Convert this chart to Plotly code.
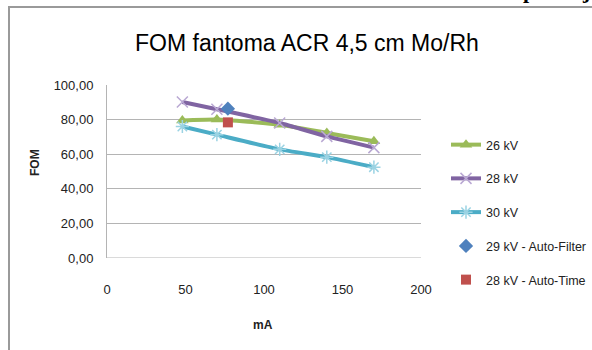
import plotly.graph_objects as go

# Tube current (mA) and FOM measured at each kV setting
ma = [48, 70, 110, 140, 170]
fom_26kv = [79.5, 80.0, 77.0, 72.3, 67.5]
fom_28kv = [90.2, 86.0, 78.0, 70.3, 63.8]
fom_30kv = [76.0, 71.3, 62.8, 58.3, 52.5]

# Automatic exposure modes (single points)
auto_filter_ma = [77]
auto_filter_fom = [86.3]
auto_time_ma = [77]
auto_time_fom = [78.4]

y_ticks = [0, 20, 40, 60, 80, 100]
y_tick_text = ["0,00", "20,00", "40,00", "60,00", "80,00", "100,00"]
x_ticks = [0, 50, 100, 150, 200]

W, H = 592, 350
L, R, T, B = 107, 421, 85, 258  # plot area in pixels

def px_x(px):
    return (px - L) / (R - L)

def px_y(py):
    return (B - py) / (B - T)

font_main = "Liberation Sans, Arial, sans-serif"

fig = go.Figure()

fig.add_trace(go.Scatter(
    x=ma, y=fom_26kv, name="26 kV", mode="lines+markers",
    line=dict(color="#9BBB59", width=4, shape="spline", smoothing=0.5),
    marker=dict(symbol="triangle-up", size=11, color="#9BBB59"),
    legendgroup="a",
))
fig.add_trace(go.Scatter(
    x=ma, y=fom_28kv, name="28 kV", mode="lines+markers",
    line=dict(color="#8064A2", width=4, shape="spline", smoothing=0.5),
    marker=dict(symbol="x-thin", size=11, line=dict(color="#B9A8D3", width=1.5)),
    legendgroup="b",
))
fig.add_trace(go.Scatter(
    x=ma, y=fom_30kv, name="30 kV", mode="lines+markers",
    line=dict(color="#4BACC6", width=4, shape="spline", smoothing=0.5),
    marker=dict(symbol="asterisk", size=11, line=dict(color="#9BD3E3", width=1.5)),
    legendgroup="c",
))
fig.add_trace(go.Scatter(
    x=auto_filter_ma, y=auto_filter_fom, name="29 kV - Auto-Filter", mode="markers",
    marker=dict(symbol="diamond", size=11, color="#4F81BD"),
    legendgroup="d",
))
fig.add_trace(go.Scatter(
    x=auto_time_ma, y=auto_time_fom, name="28 kV - Auto-Time", mode="markers",
    marker=dict(symbol="square", size=10, color="#C0504D"),
    legendgroup="e",
))

grid = "#B4B4B4"

fig.update_layout(
    width=W, height=H,
    margin=dict(l=L, r=W - R, t=T, b=H - B, autoexpand=False),
    paper_bgcolor="white", plot_bgcolor="white",
    font=dict(family=font_main, size=13, color="#222222"),
    showlegend=True,
    legend=dict(
        x=px_x(446), y=px_y(130), xanchor="left", yanchor="top",
        font=dict(family=font_main, size=12.5, color="#222222"),
        tracegroupgap=14.5, itemwidth=30, bgcolor="rgba(0,0,0,0)",
    ),
    xaxis=dict(
        range=[0, 200], tickvals=x_ticks, showgrid=False, zeroline=False,
        showline=False, ticks="", ticklabelstandoff=22,
        tickfont=dict(size=13, color="#222222"),
    ),
    yaxis=dict(
        range=[0, 100], tickvals=y_ticks, ticktext=y_tick_text,
        showgrid=True, gridcolor=grid, gridwidth=1, zeroline=False,
        showline=True, linecolor=grid, linewidth=1, ticks="",
        ticklabelstandoff=10, tickfont=dict(size=13, color="#222222"),
    ),
    annotations=[
        dict(text="FOM fantoma ACR 4,5 cm Mo/Rh", xref="paper", yref="paper",
             x=px_x(307), y=px_y(43), xanchor="center", yanchor="middle",
             showarrow=False, font=dict(family=font_main, size=23, color="#000000")),
        dict(text="<b>mA</b>", xref="paper", yref="paper",
             x=px_x(263), y=px_y(325), xanchor="center", yanchor="middle",
             showarrow=False, font=dict(size=12, color="#222222")),
        dict(text="<b>FOM</b>", xref="paper", yref="paper",
             x=px_x(35), y=px_y(163), xanchor="center", yanchor="middle",
             textangle=-90, showarrow=False, font=dict(size=12, color="#222222")),
        # running text of the page above the chart (only descenders visible)
        dict(text="<b>p</b>", xref="paper", yref="paper",
             x=px_x(529), y=px_y(-10), xanchor="center", yanchor="middle",
             showarrow=False,
             font=dict(family="Liberation Serif, serif", size=22, color="#000000")),
        dict(text="<b>j</b>", xref="paper", yref="paper",
             x=px_x(586), y=px_y(-10), xanchor="center", yanchor="middle",
             showarrow=False,
             font=dict(family="Liberation Serif, serif", size=22, color="#000000")),
    ],
    shapes=[
        # chart frame (left and top edges)
        dict(type="line", xref="paper", yref="paper",
             x0=px_x(9), x1=px_x(9), y0=px_y(6.5), y1=px_y(360),
             line=dict(color="#9A9A9A", width=2)),
        dict(type="line", xref="paper", yref="paper",
             x0=px_x(8), x1=px_x(600), y0=px_y(7), y1=px_y(7),
             line=dict(color="#9A9A9A", width=2)),
        # baseline along y = 0
        dict(type="line", xref="paper", yref="y",
             x0=0, x1=1, y0=0, y1=0, line=dict(color=grid, width=1)),
    ],
)

fig.write_html("out.html")
